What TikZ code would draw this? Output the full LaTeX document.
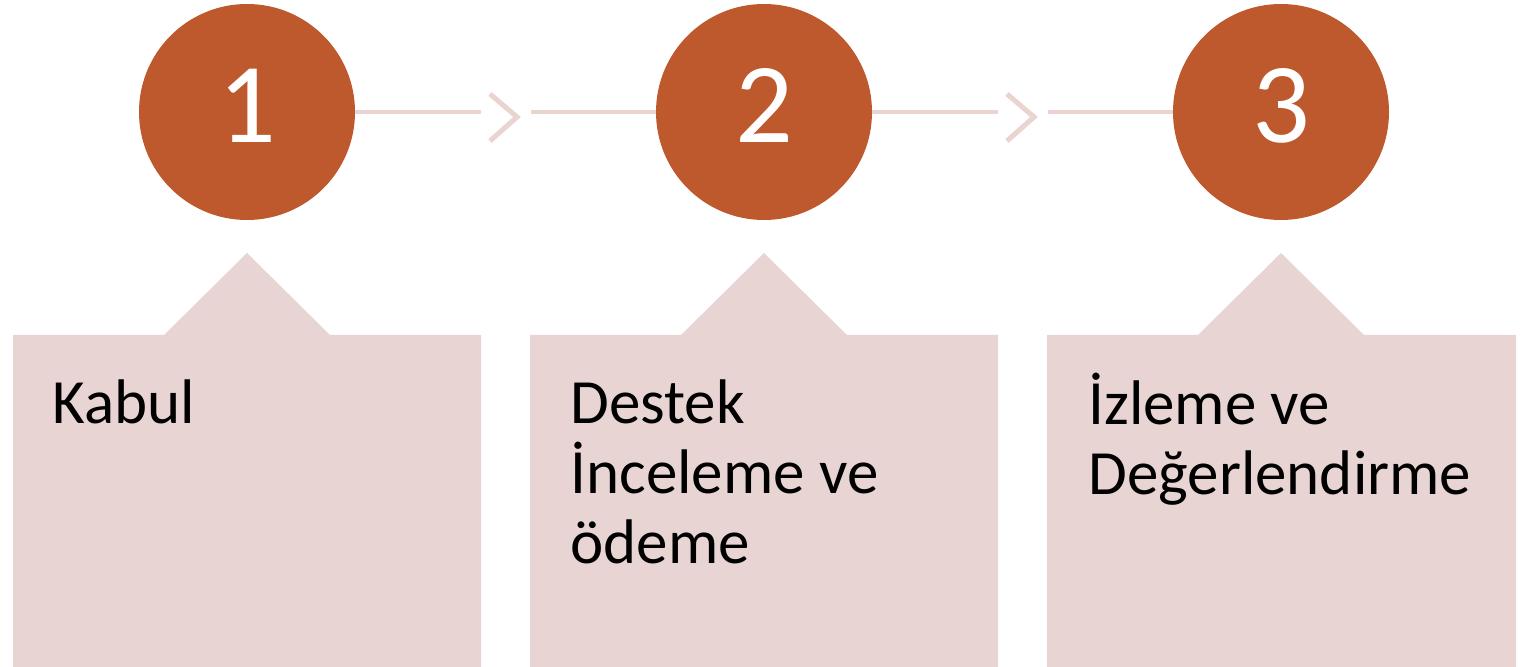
\documentclass[tikz,border=0pt]{standalone}
\usepackage{fontspec}
\setmainfont{Carlito}
\definecolor{rust}{RGB}{190,88,45}
\definecolor{blush}{RGB}{232,213,211}
\definecolor{linkpink}{RGB}{233,212,208}
\begin{document}
\begin{tikzpicture}[x=0.5pt,y=-0.5pt,
		num/.style={circle,fill=rust,minimum size=108pt,inner sep=0pt,text=white,text depth=6pt,font=\fontsize{57}{60}\selectfont},
		link/.style={draw=linkpink,line width=2pt},
		chev/.style={draw=linkpink,line width=2.5pt,line join=miter},
		callout/.style={fill=blush},
		steptext/.style={anchor=base west,align=left,inner sep=0pt,font=\fontsize{31.5}{35}\selectfont}]
			\useasboundingbox (0,0) rectangle (1537,667);
			\fill[white] (0,0) rectangle (1537,667);
			% callout boxes
			\fill[callout] (13,667) -- (13,335) -- (164,335) -- (247,253) -- (330,335) -- (481,335) -- (481,667) -- cycle;
			\fill[callout] (530,667) -- (530,335) -- (681,335) -- (764,253) -- (847,335) -- (998,335) -- (998,667) -- cycle;
			\fill[callout] (1047,667) -- (1047,335) -- (1198,335) -- (1281,253) -- (1364,335) -- (1516,335) -- (1516,667) -- cycle;
			% numbered circles
			\node[num] (c1) at (247,112) {1};
			\node[num] (c2) at (764,112) {2};
			\node[num] (c3) at (1281,112) {3};
			% connectors
			\coordinate (m1) at (505.5,112);
			\coordinate (m2) at (1022.5,112);
			\draw[link] (c1.east) -- ([xshift=-12.25pt]m1);
			\draw[chev] ([shift={(-15.5,-18)}]m1) -- ([shift={(11.5,5)}]m1) -- ([shift={(-15.5,29)}]m1);
			\draw[link] ([xshift=12.75pt]m1) -- (c2.west);
			\draw[link] (c2.east) -- ([xshift=-12.25pt]m2);
			\draw[chev] ([shift={(-15.5,-18)}]m2) -- ([shift={(11.5,5)}]m2) -- ([shift={(-15.5,29)}]m2);
			\draw[link] ([xshift=12.75pt]m2) -- (c3.west);
			% texts (base = last line)
			\node[steptext] (t1) at (52,424) {Kabul};
			\node[steptext] (t2) at (570,564) {Destek\\İnceleme ve\\ödeme};
			\node[steptext] (t3) at (1088,495) {İzleme ve\\Değerlendirme};
		\end{tikzpicture}
\end{document}
